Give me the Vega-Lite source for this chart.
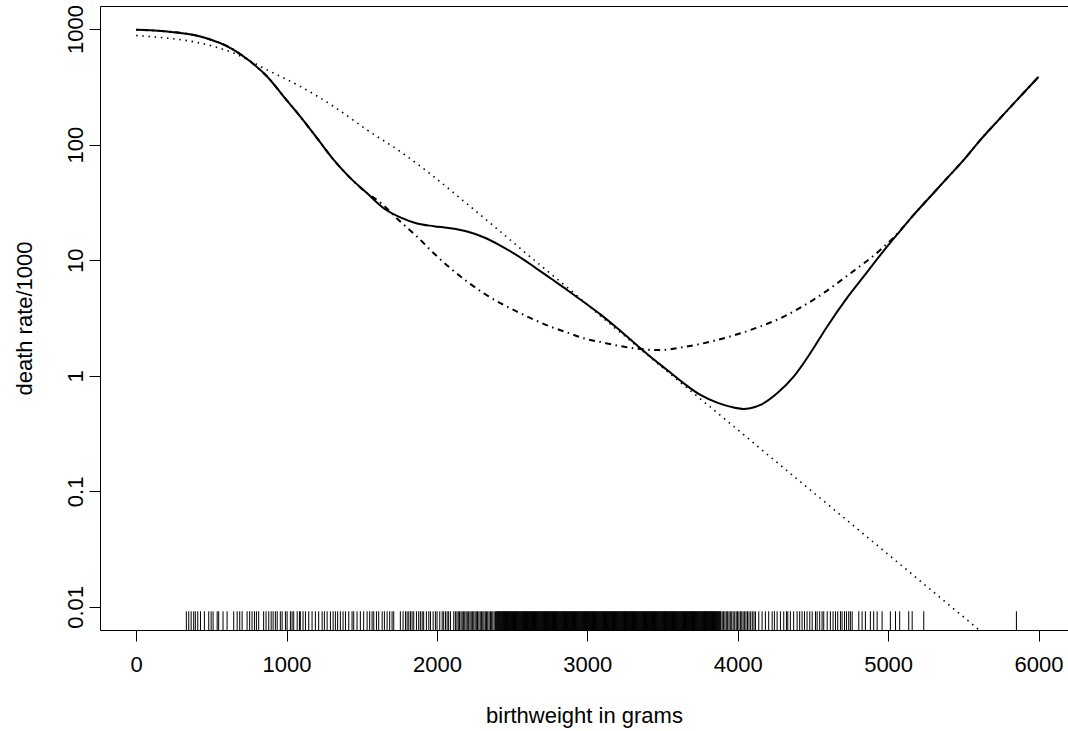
{
  "$schema": "https://vega.github.io/schema/vega-lite/v6.json",
  "width": 968,
  "height": 624,
  "autosize": {"type": "none"},
  "padding": {"left": 100, "top": 6, "right": 0, "bottom": 101},
  "background": "white",
  "config": {
    "font": "Liberation Sans",
    "view": {"stroke": "black", "strokeWidth": 1},
    "axis": {"grid": false, "domain": false, "tickColor": "black", "labelColor": "black", "titleColor": "black", "labelFontSize": 22, "titleFontSize": 22, "titleFontWeight": "normal", "tickSize": 11, "labelFlush": false, "labelOverlap": false}
  },
  "datasets": {
    "solid": [{"w":0,"r":986},{"w":206,"r":953},{"w":428,"r":863},{"w":649,"r":662},{"w":760,"r":524},{"w":871,"r":389},{"w":981,"r":261},{"w":1092,"r":175},{"w":1203,"r":114},{"w":1314,"r":73.8},{"w":1425,"r":51.3},{"w":1536,"r":38.0},{"w":1646,"r":28.2},{"w":1757,"r":23.5},{"w":1868,"r":20.8},{"w":1979,"r":19.7},{"w":2090,"r":18.9},{"w":2201,"r":17.7},{"w":2311,"r":15.8},{"w":2422,"r":13.4},{"w":2533,"r":11.0},{"w":2644,"r":8.81},{"w":2755,"r":6.98},{"w":2866,"r":5.53},{"w":2976,"r":4.35},{"w":3087,"r":3.40},{"w":3198,"r":2.59},{"w":3309,"r":1.94},{"w":3420,"r":1.46},{"w":3531,"r":1.12},{"w":3641,"r":0.861},{"w":3752,"r":0.682},{"w":3863,"r":0.585},{"w":3974,"r":0.531},{"w":4040,"r":0.517},{"w":4110,"r":0.534},{"w":4151,"r":0.559},{"w":4262,"r":0.705},{"w":4372,"r":0.982},{"w":4483,"r":1.57},{"w":4594,"r":2.66},{"w":4727,"r":4.72},{"w":4838,"r":7.24},{"w":4949,"r":11.1},{"w":5060,"r":16.7},{"w":5170,"r":24.7},{"w":5281,"r":35.6},{"w":5392,"r":51.3},{"w":5503,"r":73.8},{"w":5614,"r":110},{"w":5735,"r":164},{"w":6000,"r":386}],
    "dashdot": [{"w":0,"r":986},{"w":206,"r":953},{"w":428,"r":863},{"w":649,"r":662},{"w":760,"r":524},{"w":871,"r":389},{"w":981,"r":261},{"w":1092,"r":175},{"w":1203,"r":114},{"w":1314,"r":73.8},{"w":1425,"r":51.3},{"w":1536,"r":38.0},{"w":1602,"r":33.3},{"w":1757,"r":21.6},{"w":1868,"r":16.0},{"w":1979,"r":11.5},{"w":2090,"r":8.53},{"w":2201,"r":6.53},{"w":2311,"r":5.18},{"w":2422,"r":4.25},{"w":2533,"r":3.59},{"w":2644,"r":3.07},{"w":2755,"r":2.66},{"w":2866,"r":2.37},{"w":2976,"r":2.11},{"w":3087,"r":1.96},{"w":3309,"r":1.73},{"w":3486,"r":1.67},{"w":3641,"r":1.77},{"w":3863,"r":2.04},{"w":4085,"r":2.49},{"w":4306,"r":3.25},{"w":4528,"r":4.77},{"w":4750,"r":7.71},{"w":4949,"r":12.3},{"w":5060,"r":16.9},{"w":5170,"r":24.7},{"w":5281,"r":35.6},{"w":5392,"r":51.3},{"w":5503,"r":73.8},{"w":5614,"r":110},{"w":5735,"r":164},{"w":6000,"r":386}],
    "dotted": [{"w":0,"r":880},{"w":206,"r":836},{"w":428,"r":756},{"w":649,"r":620},{"w":871,"r":444},{"w":1092,"r":319},{"w":1314,"r":214},{"w":1536,"r":134},{"w":1757,"r":87.1},{"w":1979,"r":52.9},{"w":2201,"r":30.7},{"w":2422,"r":17.7},{"w":2644,"r":10.1},{"w":2866,"r":5.82},{"w":3087,"r":3.30},{"w":3309,"r":1.90},{"w":3531,"r":1.09},{"w":3752,"r":0.631},{"w":3974,"r":0.364},{"w":4151,"r":0.234},{"w":4417,"r":0.121},{"w":4749,"r":0.0531},{"w":5049,"r":0.0252},{"w":5315,"r":0.0130},{"w":5592,"r":0.00653},{"w":6000,"r":0.00236}],
    "rug": [{"w":334},{"w":350},{"w":366},{"w":383},{"w":394},{"w":410},{"w":428},{"w":454},{"w":483},{"w":499},{"w":512},{"w":539},{"w":549},{"w":578},{"w":605},{"w":649},{"w":672},{"w":689},{"w":705},{"w":738},{"w":755},{"w":771},{"w":787},{"w":800},{"w":815},{"w":848},{"w":864},{"w":882},{"w":898},{"w":911},{"w":926},{"w":938},{"w":959},{"w":971},{"w":993},{"w":1004},{"w":1026},{"w":1037},{"w":1048},{"w":1071},{"w":1086},{"w":1092},{"w":1110},{"w":1126},{"w":1148},{"w":1170},{"w":1192},{"w":1214},{"w":1237},{"w":1252},{"w":1270},{"w":1292},{"w":1310},{"w":1325},{"w":1340},{"w":1358},{"w":1376},{"w":1392},{"w":1414},{"w":1436},{"w":1447},{"w":1469},{"w":1491},{"w":1513},{"w":1536},{"w":1553},{"w":1569},{"w":1580},{"w":1598},{"w":1613},{"w":1636},{"w":1651},{"w":1669},{"w":1686},{"w":1702},{"w":1713},{"w":1757},{"w":1775},{"w":1791},{"w":1802},{"w":1813},{"w":1824},{"w":1835},{"w":1846},{"w":1864},{"w":1879},{"w":1890},{"w":1902},{"w":1912},{"w":1930},{"w":1946},{"w":1957},{"w":1975},{"w":1990},{"w":2001},{"w":2019},{"w":2035},{"w":2045},{"w":2057},{"w":2068},{"w":2078},{"w":2090},{"w":2112},{"w":2123},{"w":2133},{"w":2142},{"w":2150},{"w":2160},{"w":2168},{"w":2176},{"w":2185},{"w":2194},{"w":2202},{"w":2211},{"w":2220},{"w":2228},{"w":2236},{"w":2245},{"w":2254},{"w":2262},{"w":2270},{"w":2279},{"w":2288},{"w":2296},{"w":2305},{"w":2313},{"w":2322},{"w":2330},{"w":2338},{"w":2347},{"w":2356},{"w":2364},{"w":2372},{"w":2381},{"w":2390},{"w":2397},{"w":2404},{"w":2411},{"w":2418},{"w":2425},{"w":2432},{"w":2439},{"w":2446},{"w":2453},{"w":2460},{"w":2467},{"w":2474},{"w":2481},{"w":2488},{"w":2495},{"w":2502},{"w":2509},{"w":2516},{"w":2523},{"w":2530},{"w":2537},{"w":2544},{"w":2551},{"w":2558},{"w":2565},{"w":2572},{"w":2579},{"w":2586},{"w":2593},{"w":2600},{"w":2607},{"w":2614},{"w":2621},{"w":2628},{"w":2635},{"w":2642},{"w":2649},{"w":2656},{"w":2663},{"w":2670},{"w":2677},{"w":2684},{"w":2691},{"w":2698},{"w":2705},{"w":2712},{"w":2719},{"w":2726},{"w":2733},{"w":2740},{"w":2747},{"w":2754},{"w":2761},{"w":2768},{"w":2775},{"w":2782},{"w":2789},{"w":2796},{"w":2803},{"w":2810},{"w":2817},{"w":2824},{"w":2831},{"w":2838},{"w":2845},{"w":2852},{"w":2859},{"w":2866},{"w":2873},{"w":2880},{"w":2887},{"w":2894},{"w":2901},{"w":2908},{"w":2915},{"w":2922},{"w":2929},{"w":2936},{"w":2943},{"w":2950},{"w":2957},{"w":2964},{"w":2971},{"w":2978},{"w":2985},{"w":2992},{"w":2999},{"w":3006},{"w":3013},{"w":3020},{"w":3027},{"w":3034},{"w":3041},{"w":3048},{"w":3055},{"w":3062},{"w":3069},{"w":3076},{"w":3083},{"w":3090},{"w":3097},{"w":3104},{"w":3111},{"w":3118},{"w":3125},{"w":3132},{"w":3139},{"w":3146},{"w":3153},{"w":3160},{"w":3167},{"w":3174},{"w":3181},{"w":3188},{"w":3195},{"w":3202},{"w":3209},{"w":3216},{"w":3223},{"w":3230},{"w":3237},{"w":3244},{"w":3251},{"w":3258},{"w":3265},{"w":3272},{"w":3279},{"w":3286},{"w":3293},{"w":3300},{"w":3307},{"w":3314},{"w":3321},{"w":3328},{"w":3335},{"w":3342},{"w":3349},{"w":3356},{"w":3363},{"w":3370},{"w":3377},{"w":3384},{"w":3391},{"w":3398},{"w":3405},{"w":3412},{"w":3419},{"w":3426},{"w":3433},{"w":3440},{"w":3447},{"w":3454},{"w":3461},{"w":3468},{"w":3475},{"w":3482},{"w":3489},{"w":3496},{"w":3503},{"w":3510},{"w":3517},{"w":3524},{"w":3531},{"w":3538},{"w":3545},{"w":3552},{"w":3559},{"w":3566},{"w":3573},{"w":3580},{"w":3587},{"w":3594},{"w":3601},{"w":3608},{"w":3615},{"w":3622},{"w":3629},{"w":3636},{"w":3643},{"w":3650},{"w":3657},{"w":3664},{"w":3671},{"w":3678},{"w":3685},{"w":3692},{"w":3699},{"w":3706},{"w":3713},{"w":3720},{"w":3727},{"w":3734},{"w":3741},{"w":3748},{"w":3755},{"w":3762},{"w":3769},{"w":3776},{"w":3783},{"w":3790},{"w":3797},{"w":3804},{"w":3811},{"w":3818},{"w":3825},{"w":3832},{"w":3839},{"w":3846},{"w":3853},{"w":3860},{"w":3867},{"w":3874},{"w":3881},{"w":3888},{"w":3897},{"w":3906},{"w":3915},{"w":3924},{"w":3933},{"w":3942},{"w":3951},{"w":3960},{"w":3970},{"w":3980},{"w":3990},{"w":3999},{"w":4008},{"w":4018},{"w":4027},{"w":4036},{"w":4046},{"w":4055},{"w":4065},{"w":4075},{"w":4086},{"w":4097},{"w":4108},{"w":4118},{"w":4140},{"w":4162},{"w":4184},{"w":4206},{"w":4229},{"w":4244},{"w":4262},{"w":4284},{"w":4306},{"w":4324},{"w":4333},{"w":4350},{"w":4372},{"w":4395},{"w":4412},{"w":4428},{"w":4444},{"w":4461},{"w":4479},{"w":4495},{"w":4517},{"w":4528},{"w":4545},{"w":4561},{"w":4572},{"w":4595},{"w":4616},{"w":4634},{"w":4650},{"w":4665},{"w":4683},{"w":4694},{"w":4710},{"w":4723},{"w":4738},{"w":4749},{"w":4761},{"w":4805},{"w":4827},{"w":4849},{"w":4882},{"w":4904},{"w":4927},{"w":4960},{"w":5015},{"w":5049},{"w":5077},{"w":5137},{"w":5160},{"w":5237},{"w":5853},
      {"w":2400},{"w":2407},{"w":2414},{"w":2421},{"w":2428},{"w":2435},{"w":2442},{"w":2449},{"w":2456},{"w":2463},{"w":2470},{"w":2477},{"w":2484},{"w":2491},{"w":2498},{"w":2505},{"w":2512},{"w":2519},{"w":2526},{"w":2533},{"w":2540},{"w":2547},{"w":2554},{"w":2561},{"w":2568},{"w":2575},{"w":2582},{"w":2589},{"w":2596},{"w":2603},{"w":2610},{"w":2617},{"w":2624},{"w":2631},{"w":2638},{"w":2645},{"w":2652},{"w":2659},{"w":2666},{"w":2673},{"w":2680},{"w":2687},{"w":2694},{"w":2701},{"w":2708},{"w":2715},{"w":2722},{"w":2729},{"w":2736},{"w":2743},{"w":2750},{"w":2757},{"w":2764},{"w":2771},{"w":2778},{"w":2785},{"w":2792},{"w":2799},{"w":2806},{"w":2813},{"w":2820},{"w":2827},{"w":2834},{"w":2841},{"w":2848},{"w":2855},{"w":2862},{"w":2869},{"w":2876},{"w":2883},{"w":2890},{"w":2897},{"w":2904},{"w":2911},{"w":2918},{"w":2925},{"w":2932},{"w":2939},{"w":2946},{"w":2953},{"w":2960},{"w":2967},{"w":2974},{"w":2981},{"w":2988},{"w":2995},{"w":3002},{"w":3009},{"w":3016},{"w":3023},{"w":3030},{"w":3037},{"w":3044},{"w":3051},{"w":3058},{"w":3065},{"w":3072},{"w":3079},{"w":3086},{"w":3093},{"w":3100},{"w":3107},{"w":3114},{"w":3121},{"w":3128},{"w":3135},{"w":3142},{"w":3149},{"w":3156},{"w":3163},{"w":3170},{"w":3177},{"w":3184},{"w":3191},{"w":3198},{"w":3205},{"w":3212},{"w":3219},{"w":3226},{"w":3233},{"w":3240},{"w":3247},{"w":3254},{"w":3261},{"w":3268},{"w":3275},{"w":3282},{"w":3289},{"w":3296},{"w":3303},{"w":3310},{"w":3317},{"w":3324},{"w":3331},{"w":3338},{"w":3345},{"w":3352},{"w":3359},{"w":3366},{"w":3373},{"w":3380},{"w":3387},{"w":3394},{"w":3401},{"w":3408},{"w":3415},{"w":3422},{"w":3429},{"w":3436},{"w":3443},{"w":3450},{"w":3457},{"w":3464},{"w":3471},{"w":3478},{"w":3485},{"w":3492},{"w":3499},{"w":3506},{"w":3513},{"w":3520},{"w":3527},{"w":3534},{"w":3541},{"w":3548},{"w":3555},{"w":3562},{"w":3569},{"w":3576},{"w":3583},{"w":3590},{"w":3597},{"w":3604},{"w":3611},{"w":3618},{"w":3625},{"w":3632},{"w":3639},{"w":3646},{"w":3653},{"w":3660},{"w":3667},{"w":3674},{"w":3681},{"w":3688},{"w":3695},{"w":3702},{"w":3709},{"w":3716},{"w":3723},{"w":3730},{"w":3737},{"w":3744},{"w":3751},{"w":3758},{"w":3765},{"w":3772},{"w":3779},{"w":3786},{"w":3793},{"w":3800},{"w":3807},{"w":3814},{"w":3821},{"w":3828},{"w":3835},{"w":3842},{"w":3849},{"w":3856},{"w":3863},{"w":3870},{"w":3877},{"w":3884}]
  },
  "layer": [
    {
      "data": {"name": "solid"},
      "mark": {"type": "line", "color": "black", "strokeWidth": 2, "interpolate": "monotone", "clip": true},
      "encoding": {
        "x": {"field": "w", "type": "quantitative", "scale": {"domain": [-240, 6196], "nice": false, "zero": false},
          "axis": {"values": [0, 1000, 2000, 3000, 4000, 5000, 6000], "format": "d", "title": "birthweight in grams", "labelPadding": 13, "titlePadding": 30}},
        "y": {"field": "r", "type": "quantitative", "scale": {"type": "log", "domain": [0.0063096, 1584.89], "nice": false, "zero": false},
          "axis": {"values": [0.01, 0.1, 1, 10, 100, 1000], "format": "~g", "labelAngle": -90, "labelPadding": 2, "title": "death rate/1000", "titlePadding": 28}}
      }
    },
    {
      "data": {"name": "dotted"},
      "mark": {"type": "line", "color": "black", "strokeWidth": 1.6, "strokeDash": [1.5, 4.7], "interpolate": "monotone", "clip": true},
      "encoding": {
        "x": {"field": "w", "type": "quantitative"},
        "y": {"field": "r", "type": "quantitative"}
      }
    },
    {
      "data": {"name": "dashdot"},
      "mark": {"type": "line", "color": "black", "strokeWidth": 2, "strokeDash": [1.5, 4.5, 6, 4.5], "interpolate": "monotone", "clip": true},
      "encoding": {
        "x": {"field": "w", "type": "quantitative"},
        "y": {"field": "r", "type": "quantitative"}
      }
    },
    {
      "data": {"name": "rug"},
      "mark": {"type": "rule", "color": "black", "strokeWidth": 1},
      "encoding": {
        "x": {"field": "w", "type": "quantitative"},
        "y": {"datum": 0.0063096, "type": "quantitative"},
        "y2": {"datum": 0.00916}
      }
    }
  ]
}
